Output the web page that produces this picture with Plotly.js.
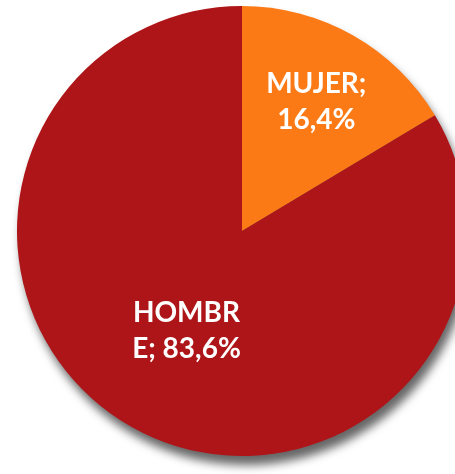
<!DOCTYPE html>
<html>
<head>
<meta charset="utf-8">
<script src="https://cdn.plot.ly/plotly-3.0.1.min.js"></script>
<style>
  html, body { margin: 0; padding: 0; background: #ffffff; overflow: hidden; }
  #chart { width: 484px; height: 474px; filter: drop-shadow(4px 9px 5px rgba(0,0,0,0.6)); }
</style>
</head>
<body>
<div id="chart"></div>
<script>
const categories = ['MUJER', 'HOMBRE'];
const values = [16.4, 83.6];
const sliceLabels = ['MUJER;<br>16,4%', 'HOMBR<br>E; 83,6%'];
const colors = ['#FB7A15', '#AE1518'];

Plotly.newPlot('chart', [{
  type: 'pie',
  labels: categories,
  values: values,
  text: sliceLabels,
  textinfo: 'text',
  textposition: 'inside',
  insidetextorientation: 'horizontal',
  sort: false,
  direction: 'clockwise',
  rotation: 0,
  marker: { colors: colors, line: { width: 0 } },
  textfont: { family: 'Lato, "Open Sans", sans-serif', size: 28, color: '#ffffff', weight: 'bold' },
  hoverinfo: 'none'
}], {
  width: 484,
  height: 474,
  margin: { l: 0, r: 0, t: 6, b: 18 },
  showlegend: false,
  paper_bgcolor: 'rgba(0,0,0,0)',
  plot_bgcolor: 'rgba(0,0,0,0)'
}, { staticPlot: true });
</script>
</body>
</html>
